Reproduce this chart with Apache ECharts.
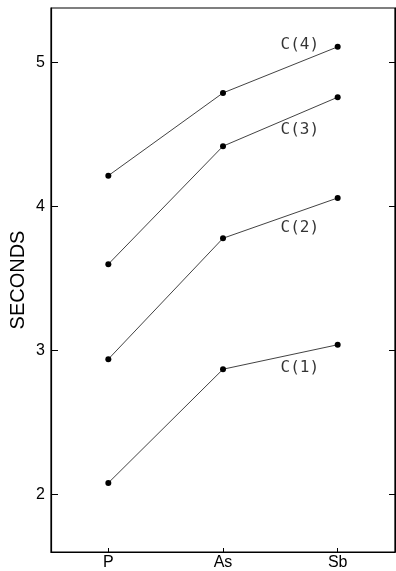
<!DOCTYPE html>
<html><head><meta charset="utf-8">
<script src="https://cdn.jsdelivr.net/npm/echarts@6/dist/echarts.min.js"></script>
<style>html,body{margin:0;padding:0;background:#fff}#c{width:396px;height:571px}</style>
</head><body><div id="c"></div>
<script>
const categories = ['P', 'As', 'Sb'];
const c1 = [2.08, 2.87, 3.04];
const c2 = [2.94, 3.78, 4.06];
const c3 = [3.60, 4.42, 4.76];
const c4 = [4.215, 4.79, 5.11];
const seriesNames = ['C(1)', 'C(2)', 'C(3)', 'C(4)'];
const yTicks = [2, 3, 4, 5];
// label anchors in data coordinates [category position, seconds]
const labelX = [1.67, 1.67, 1.67, 1.67];
const labelY = [2.88, 3.85, 4.535, 5.125];

const font = 'Liberation Sans, DejaVu Sans, sans-serif';
const values = [c1, c2, c3, c4];
const lineSeries = values.map((v, i) => ({
  type: 'line', name: seriesNames[i], data: v, xAxisIndex: 0, yAxisIndex: 0,
  symbol: 'circle', symbolSize: 6,
  lineStyle: {color: '#111', width: 0.8},
  itemStyle: {color: '#000'},
  animation: false
}));
const labelSeries = {
  type: 'scatter', xAxisIndex: 1, yAxisIndex: 0, symbolSize: 0, animation: false,
  data: seriesNames.map((n, i) => ({name: n, value: [labelX[i], labelY[i]]})),
  label: {show: true, position: 'inside', formatter: p => p.name, color: '#000', fontSize: 16, fontFamily: 'DejaVu Sans Mono, Liberation Mono, monospace'},
  silent: true
};
const chart = echarts.init(document.getElementById('c'), null, {renderer: 'canvas'});
chart.setOption({
  backgroundColor: '#fff',
  grid: {left: 51, right: 1, top: 8, bottom: 19, containLabel: false, outerBoundsMode: 'none',
         show: true, borderColor: '#000', borderWidth: 1.2},
  xAxis: [{
    type: 'category', data: categories, boundaryGap: true,
    axisLine: {show: true, onZero: false, lineStyle: {color: '#000', width: 1.2}},
    axisTick: {show: true, inside: true, length: 4, alignWithLabel: true, lineStyle: {color: '#000'}},
    axisLabel: {color: '#000', fontSize: 16, fontFamily: font, margin: 3},
    splitLine: {show: false}
  }, {
    type: 'value', min: -0.5, max: 2.5, show: false
  }],
  yAxis: [{
    type: 'value', min: 1.6, max: 5.38,
    name: 'SECONDS', nameLocation: 'middle', nameGap: 23, nameRotate: 90, nameMoveOverlap: false,
    nameTextStyle: {color: '#000', fontSize: 20, fontFamily: font},
    axisLine: {show: true, onZero: false, lineStyle: {color: '#000', width: 1.2}},
    axisTick: {show: true, inside: true, length: 7, customValues: yTicks, lineStyle: {color: '#000'}},
    axisLabel: {color: '#000', fontSize: 16, fontFamily: font, margin: 6, customValues: yTicks},
    splitLine: {show: false}
  }, {
    type: 'value', min: 1.6, max: 5.38, position: 'right',
    axisLine: {show: true, onZero: false, lineStyle: {color: '#000', width: 1.2}},
    axisTick: {show: true, inside: true, length: 6, customValues: yTicks, lineStyle: {color: '#000'}},
    axisLabel: {show: false, customValues: yTicks},
    splitLine: {show: false}
  }],
  series: [...lineSeries, labelSeries]
});
</script></body></html>
